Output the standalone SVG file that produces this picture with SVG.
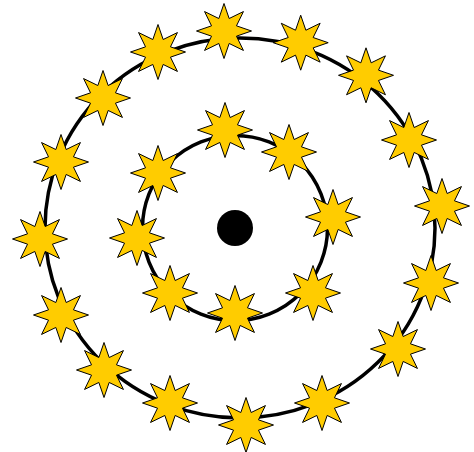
<svg xmlns="http://www.w3.org/2000/svg" xmlns:xlink="http://www.w3.org/1999/xlink" width="474" height="452" viewBox="0 0 474 452">
<style>
.ring{fill:none;stroke:#000;stroke-width:3.5}
.star{fill:#FFCC00;stroke:#000;stroke-width:1;stroke-linejoin:miter}
</style>
<defs>
<path id="star" class="star" d="M0,-27.5 L5.17,-12.47 L19.45,-19.45 L12.47,-5.17 L27.5,0 L12.47,5.17 L19.45,19.45 L5.17,12.47 L0,27.5 L-5.17,12.47 L-19.45,19.45 L-12.47,5.17 L-27.5,0 L-12.47,-5.17 L-19.45,-19.45 L-5.17,-12.47 Z"/>
</defs>
<rect width="474" height="452" fill="#fff"/>
<g id="rings">
<ellipse class="ring" cx="240" cy="228" rx="195" ry="190"/>
<circle class="ring" cx="235" cy="228" r="92.5"/>
</g>
<g id="center"><circle cx="235" cy="228" r="18" fill="#000"/></g>
<g id="outer-stars">
<use id="o1" href="#star" x="224" y="31"/>
<use id="o2" href="#star" x="300.7" y="42.7"/>
<use id="o3" href="#star" x="366" y="75.3"/>
<use id="o4" href="#star" x="409" y="140"/>
<use id="o5" href="#star" x="442" y="206"/>
<use id="o6" href="#star" x="431" y="283"/>
<use id="o7" href="#star" x="398" y="349"/>
<use id="o8" href="#star" x="322" y="403"/>
<use id="o9" href="#star" x="246" y="425"/>
<use id="o10" href="#star" x="170" y="403"/>
<use id="o11" href="#star" x="104" y="370"/>
<use id="o12" href="#star" x="61" y="315"/>
<use id="o13" href="#star" x="40" y="239"/>
<use id="o14" href="#star" x="61" y="162"/>
<use id="o15" href="#star" x="103" y="98"/>
<use id="o16" href="#star" x="158" y="52"/>
</g>
<g id="inner-stars">
<use id="i1" href="#star" x="225" y="130"/>
<use id="i2" href="#star" x="289" y="152"/>
<use id="i3" href="#star" x="333" y="217"/>
<use id="i4" href="#star" x="313" y="293"/>
<use id="i5" href="#star" x="235" y="313"/>
<use id="i6" href="#star" x="170" y="293"/>
<use id="i7" href="#star" x="137" y="238"/>
<use id="i8" href="#star" x="158" y="173"/>
</g>
</svg>
